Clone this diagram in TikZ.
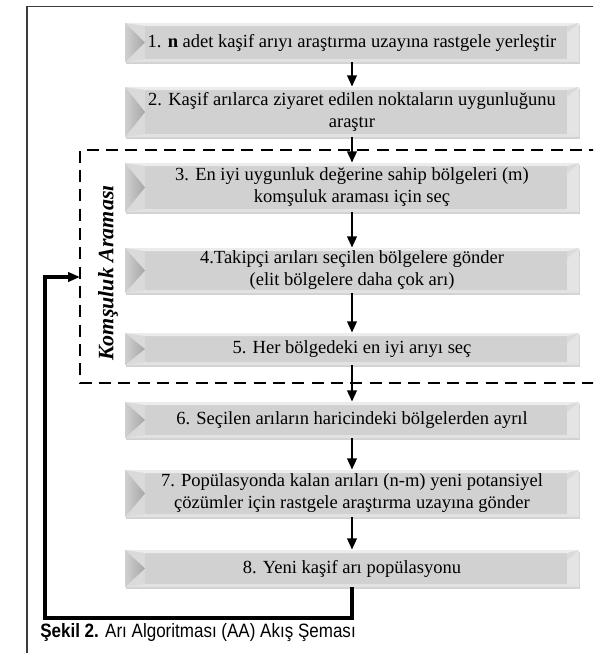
\documentclass[tikz,border=0pt]{standalone}
\usepackage{fontspec}
\setmainfont{Liberation Serif}
\newfontfamily\capfont[FakeStretch=0.88]{Liberation Sans}
\usetikzlibrary{arrows.meta,shadows,calc}
\definecolor{bevout}{HTML}{DADADA}
\definecolor{bevin}{HTML}{D1D1D1}
\definecolor{bevtop}{HTML}{ECECEC}
\definecolor{bevbot}{HTML}{E2E2E2}
\definecolor{bevright}{HTML}{E4E4E4}
\definecolor{bevtriL}{HTML}{D0D0D0}
\definecolor{bevtriR}{HTML}{A6A6A6}
\definecolor{framecol}{HTML}{3C3C3C}
\tikzset{
  bev/.style={minimum width=340.5pt, inner sep=0pt, align=center,
    font=\fontsize{13.9}{16.5}\selectfont, fill=bevout,
    drop shadow={shadow xshift=0.8pt,shadow yshift=-1.3pt,opacity=0.35},
    path picture={
      \coordinate (pNW) at (path picture bounding box.north west);
      \coordinate (pNE) at (path picture bounding box.north east);
      \coordinate (pSW) at (path picture bounding box.south west);
      \coordinate (pSE) at (path picture bounding box.south east);
      \coordinate (pW) at (path picture bounding box.west);
      \fill[bevin] ($(pNW)+(15pt,-2.25pt)$) rectangle ($(pSE)+(-9pt,2.25pt)$);
      \fill[bevtop] (pNW) -- (pNE) -- ($(pNE)+(-9pt,-2.25pt)$) -- ($(pNW)+(15pt,-2.25pt)$) -- cycle;
      \fill[bevbot] (pSW) -- (pSE) -- ($(pSE)+(-9pt,2.25pt)$) -- ($(pSW)+(15pt,2.25pt)$) -- cycle;
      \fill[left color=bevtriL,right color=bevtriR] (pNW) -- ($(pW)+(15pt,0)$) -- (pSW) -- cycle;
      \fill[bevright] (pNE) -- (pSE) -- ($(pSE)+(-9pt,2.25pt)$) -- ($(pNE)+(-9pt,-8pt)$) -- cycle;
    }},
  flow/.style={line width=1.9pt, -{Triangle[length=8.5pt,width=7pt]}},
  fback/.style={line width=2.3pt, -{Triangle[length=9pt,width=7pt]}},
  dashbox/.style={line width=1.9pt, dash pattern=on 9pt off 5.5pt},
  frame/.style={line width=1.4pt, draw=framecol}
}
\begin{document}
\begin{tikzpicture}[x=0.75pt,y=-0.75pt]
\useasboundingbox (0,0) rectangle (593,653);
\clip (0,0) rectangle (593,653);
\fill[white] (0,0) rectangle (593,653);
% outer frame
\draw[frame] (27,660) -- (27,6.5) -- (640,6.5);
% dashed neighbourhood box
\draw[dashbox] (640,150) -- (80,150) -- (80,383) -- (640,383);
% boxes
\node[bev, minimum height=29.25pt] (b1) at (352,42.5) {1. \textbf{n} adet kaşif arıyı araştırma uzayına rastgele yerleştir};
\node[bev, minimum height=37.5pt] (b2) at (352,112) {2. Kaşif arılarca ziyaret edilen noktaların uygunluğunu\\araştır};
\node[bev, minimum height=36.75pt] (b3) at (352,187.5) {3. En iyi uygunluk değerine sahip bölgeleri (m)\\komşuluk araması için seç};
\node[bev, minimum height=33.75pt] (b4) at (352,270.5) {4.Takipçi arıları seçilen bölgelere gönder\\(elit bölgelere daha çok arı)};
\node[bev, minimum height=24pt] (b5) at (352,349) {5. Her bölgedeki en iyi arıyı seç};
\node[bev, minimum height=27pt] (b6) at (352,420) {6. Seçilen arıların haricindeki bölgelerden ayrıl};
\node[bev, minimum height=35.25pt] (b7) at (352,493.5) {7. Popülasyonda kalan arıları (n-m) yeni potansiyel\\çözümler için rastgele araştırma uzayına gönder};
\node[bev, minimum height=27.75pt] (b8) at (352,568.5) {8. Yeni kaşif arı popülasyonu};
% arrows
\draw[flow] (b1) -- (b2);
\draw[flow] (b2) -- (b3);
\draw[flow] (b3) -- (b4);
\draw[flow] (b4) -- (b5);
\draw[flow] (b5) -- (b6);
\draw[flow] (b6) -- (b7);
\draw[flow] (b7) -- (b8);
% feedback
\coordinate (fbend) at (80,277);
\coordinate (fbc1) at (352,618);
\coordinate (fbc2) at (45,618);
\coordinate (fbc3) at (45,277);
\draw[fback] (b8.south) -- (fbc1) -- (fbc2) -- (fbc3) -- (fbend);
% side label
\node[rotate=90, font=\bfseries\itshape\fontsize{16.5}{19}\selectfont] (ka) at (108,273) {Komşuluk Araması};
% caption
\node[anchor=base west, inner sep=0pt, font=\capfont\fontsize{14.5}{16}\selectfont] (cap) at (40,637) {\textbf{Şekil 2.} Arı Algoritması (AA) Akış Şeması};
\end{tikzpicture}
\end{document}
